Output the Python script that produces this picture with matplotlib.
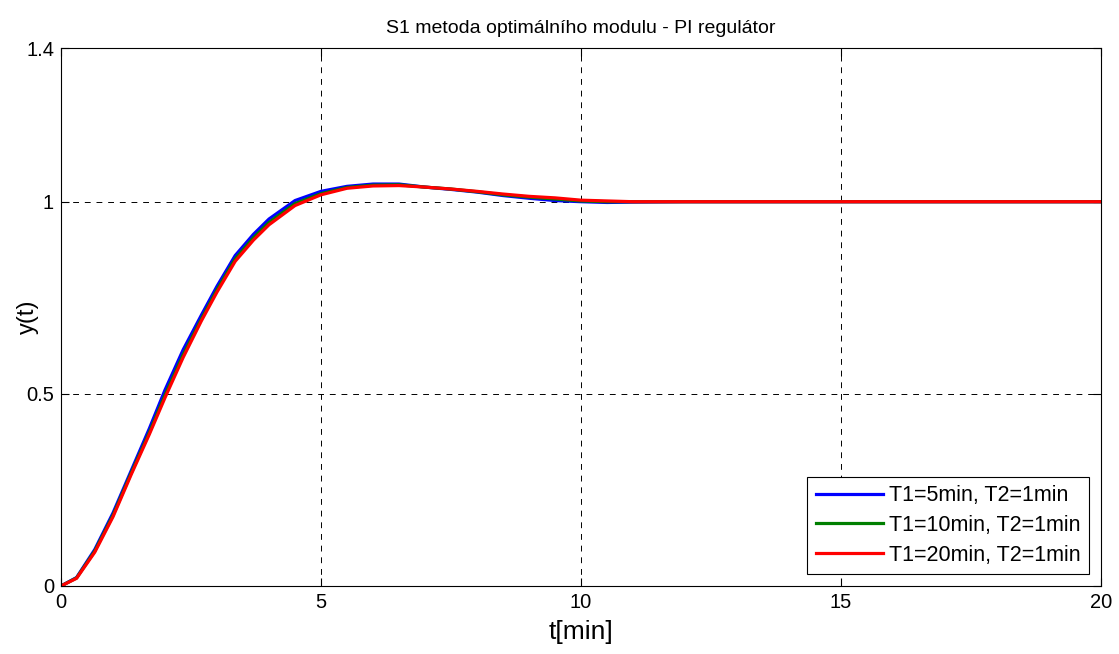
import matplotlib
matplotlib.use("Agg")
import matplotlib.pyplot as plt

plt.rcParams['font.family'] = ['Liberation Sans', 'DejaVu Sans']

t = [0, 0.3, 0.65, 1, 1.35, 1.7, 2, 2.35, 2.7, 3, 3.35, 3.7, 4, 4.5, 5, 5.5, 6, 6.5,
     7, 7.5, 8, 8.5, 9, 9.5, 10, 10.5, 11, 12, 14, 16, 18, 20]
y_T5 = [0, 0.022, 0.095, 0.19, 0.30, 0.41, 0.51, 0.615, 0.705, 0.78, 0.86, 0.915, 0.955,
        1.003, 1.027, 1.040, 1.046, 1.046, 1.038, 1.032, 1.025, 1.016, 1.009, 1.003, 1.0,
        0.998, 0.999, 1.0, 1.0, 1.0, 1.0, 1.0]
y_T10 = [0, 0.021, 0.091, 0.184, 0.294, 0.40, 0.497, 0.602, 0.695, 0.771, 0.851, 0.906,
         0.946, 0.995, 1.021, 1.037, 1.043, 1.044, 1.038, 1.033, 1.026, 1.018, 1.012, 1.007,
         1.002, 1.0, 1.0, 1.0, 1.0, 1.0, 1.0, 1.0]
y_T20 = [0, 0.02, 0.088, 0.18, 0.29, 0.395, 0.49, 0.595, 0.69, 0.765, 0.845, 0.90, 0.94,
         0.99, 1.018, 1.035, 1.041, 1.042, 1.038, 1.033, 1.027, 1.020, 1.014, 1.010, 1.004,
         1.002, 1.0, 1.0, 1.0, 1.0, 1.0, 1.0]
labels = ['T1=5min, T2=1min', 'T1=10min, T2=1min', 'T1=20min, T2=1min']
colors = ['#0000ff', '#007f00', '#ff0000']

fig = plt.figure(figsize=(11.19, 6.54), dpi=100)
ax = fig.add_axes([0.0545, 0.104, 0.9295, 0.8226])
for yy, lab, c in zip([y_T5, y_T10, y_T20], labels, colors):
    ax.plot(t, yy, color=c, lw=2.3, label=lab)

ax.set_xlim(0, 20)
ax.set_ylim(0, 1.4)
ax.set_xticks([0, 5, 10, 15, 20])
ax.set_yticks([0, 0.5, 1, 1.4])
ax.set_yticklabels(['0', '0.5', '1', '1.4'])
ax.tick_params(direction='in', top=True, right=True, labelsize=14.5, length=6, width=0.8,
               pad=5)
ax.grid(True, color='black', linestyle=(0, (6, 6)), linewidth=0.7)
for s in ax.spines.values():
    s.set_linewidth(0.8)
ax.set_title('S1 metoda optimálního modulu - PI regulátor', fontsize=14, pad=11)
ax.set_xlabel('t[min]', fontsize=19, labelpad=6)
ax.set_ylabel('y(t)', fontsize=17, va='center')
ax.yaxis.set_label_coords(-0.032, 0.5)
leg = ax.legend(loc='lower right', fontsize=15.5, fancybox=False, edgecolor='black',
                framealpha=1, borderaxespad=0.55, handlelength=3.1, handletextpad=0.3,
                labelspacing=0.4, borderpad=0.4)
leg.get_frame().set_linewidth(0.8)
fig.savefig('out.png', dpi=100)
